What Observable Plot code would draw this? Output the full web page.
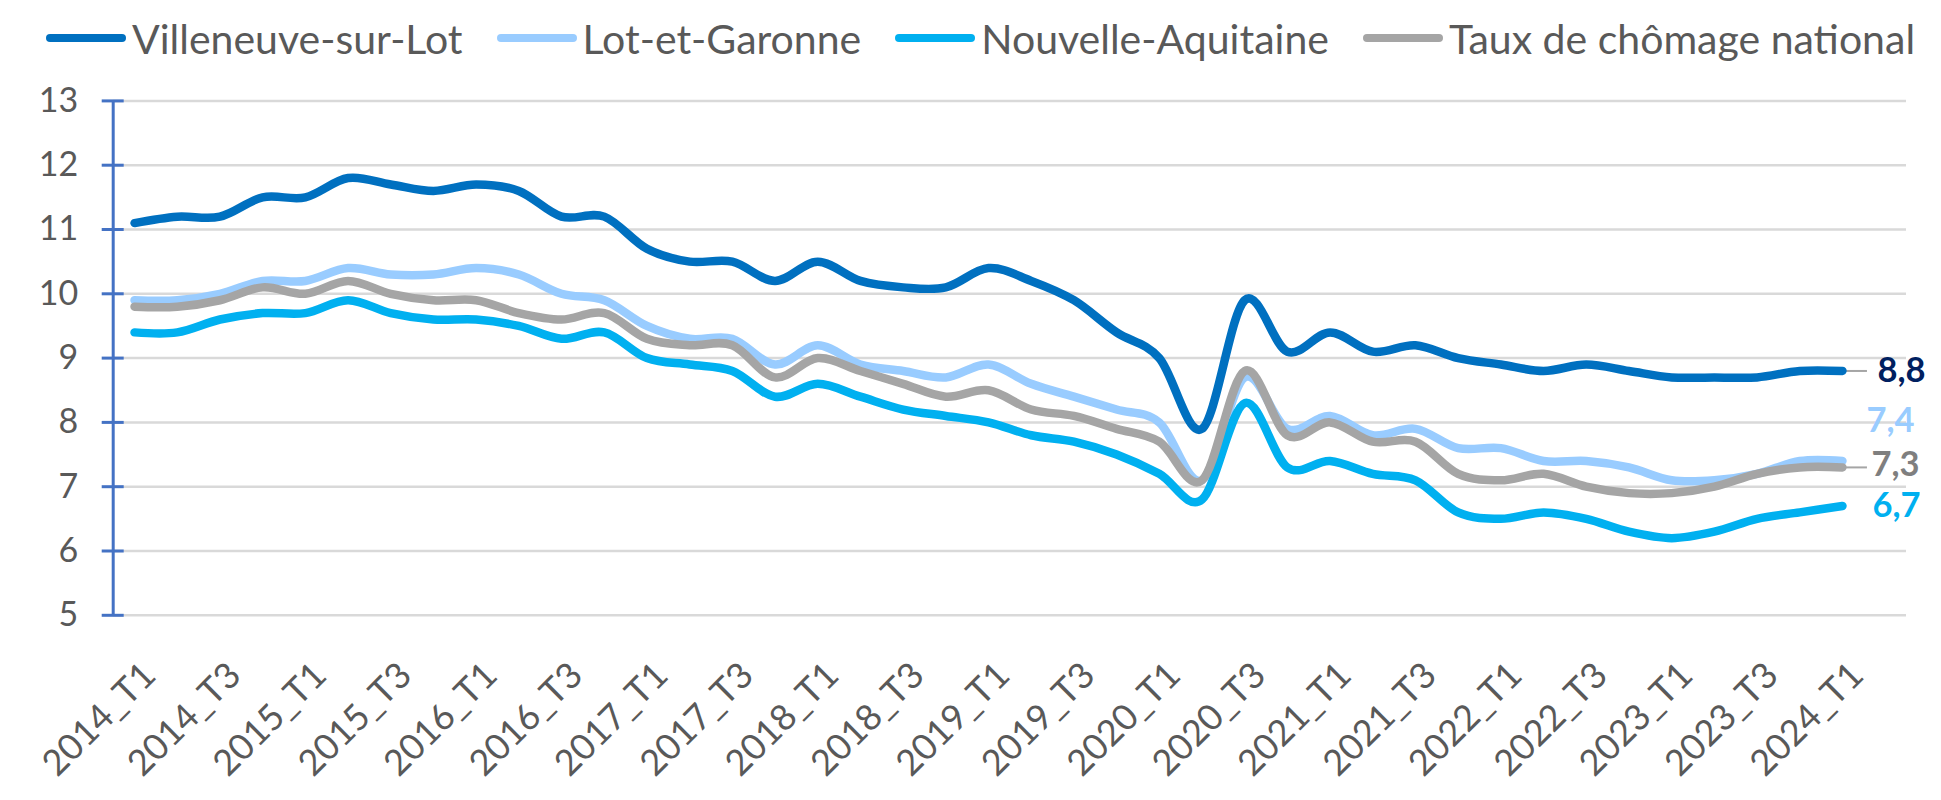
<!DOCTYPE html>
<html><head><meta charset="utf-8">
<script src="https://cdn.jsdelivr.net/npm/d3@7"></script>
<script src="https://cdn.jsdelivr.net/npm/@observablehq/plot@0.6"></script>
<style>
html,body{margin:0;padding:0;background:#fff;overflow:hidden;width:1941px;height:800px;}
#legend{height:76px;display:flex;align-items:center;padding-left:46px;font-family:Lato,sans-serif;font-size:41px;color:#595959;white-space:nowrap;box-sizing:border-box;}
.item{display:flex;align-items:center;margin-right:34px;}
.sw{width:80px;height:8px;border-radius:4px;margin-right:6px;}
#chart svg{display:block;}
</style></head><body>
<div id="legend"></div><div id="chart"></div>
<script>
const quarters = ["2014_T1","2014_T2","2014_T3","2014_T4","2015_T1","2015_T2","2015_T3","2015_T4",
  "2016_T1","2016_T2","2016_T3","2016_T4","2017_T1","2017_T2","2017_T3","2017_T4",
  "2018_T1","2018_T2","2018_T3","2018_T4","2019_T1","2019_T2","2019_T3","2019_T4",
  "2020_T1","2020_T2","2020_T3","2020_T4","2021_T1","2021_T2","2021_T3","2021_T4",
  "2022_T1","2022_T2","2022_T3","2022_T4","2023_T1","2023_T2","2023_T3","2023_T4","2024_T1"];
const xTickLabels = ["2014_T1","2014_T3","2015_T1","2015_T3","2016_T1","2016_T3","2017_T1","2017_T3",
  "2018_T1","2018_T3","2019_T1","2019_T3","2020_T1","2020_T3","2021_T1","2021_T3","2022_T1","2022_T3",
  "2023_T1","2023_T3","2024_T1"];
const yTicks = [5,6,7,8,9,10,11,12,13];

const villeneuve = [11.1,11.2,11.2,11.5,11.5,11.8,11.7,11.6,11.7,11.6,11.2,11.2,10.7,10.5,10.5,10.2,10.5,10.2,10.1,10.1,
  10.4,10.2,9.9,9.4,9.0,7.9,9.9,9.1,9.4,9.1,9.2,9.0,8.9,8.8,8.9,8.8,8.7,8.7,8.7,8.8,8.8];
const lotEtGaronne = [9.9,9.9,10.0,10.2,10.2,10.4,10.3,10.3,10.4,10.3,10.0,9.9,9.5,9.3,9.3,8.9,9.2,8.9,8.8,8.7,
  8.9,8.6,8.4,8.2,8.0,7.1,8.7,7.9,8.1,7.8,7.9,7.6,7.6,7.4,7.4,7.3,7.1,7.1,7.2,7.4,7.4];
const nouvelleAquitaine = [9.4,9.4,9.6,9.7,9.7,9.9,9.7,9.6,9.6,9.5,9.3,9.4,9.0,8.9,8.8,8.4,8.6,8.4,8.2,8.1,
  8.0,7.8,7.7,7.5,7.2,6.8,8.3,7.3,7.4,7.2,7.1,6.6,6.5,6.6,6.5,6.3,6.2,6.3,6.5,6.6,6.7];
const national = [9.8,9.8,9.9,10.1,10.0,10.2,10.0,9.9,9.9,9.7,9.6,9.7,9.3,9.2,9.2,8.7,9.0,8.8,8.6,8.4,
  8.5,8.2,8.1,7.9,7.7,7.1,8.8,7.8,8.0,7.7,7.7,7.2,7.1,7.2,7.0,6.9,6.9,7.0,7.2,7.3,7.3];

const seriesNames = ["Villeneuve-sur-Lot","Lot-et-Garonne","Nouvelle-Aquitaine","Taux de chômage national"];
const seriesValues = [villeneuve, lotEtGaronne, nouvelleAquitaine, national];
const seriesColors = ["#0070C0","#99CCFF","#00B0F0","#A5A5A5"];
const labelColors = ["#002060","#99CCFF","#00B0F0","#7F7F7F"];
const labelOffsets = [{dx:35,dy:0,leader:true},{dx:24,dy:-40,leader:false},{dx:30,dy:0,leader:false},{dx:29,dy:-2,leader:true}];

// legend
const legend = d3.select("#legend");
seriesNames.forEach((n, k) => {
  const it = legend.append("div").attr("class","item");
  it.append("div").attr("class","sw").style("background", seriesColors[k]);
  it.append("span").text(n);
});

const rows = seriesValues.map((vals, k) => vals.map((v, i) => ({i, q: quarters[i], v, s: seriesNames[k]})));
const lastIdx = quarters.length - 1;
const fmt = v => v.toFixed(1).replace(".", ",");

const W = 1941, H = 724;
const mL = 112.7, mR = 35, mT = 24.4, mB = 185.2;

const marks = [
  Plot.ruleY(yTicks, {stroke: "#D9D9D9", strokeWidth: 2.5}),
  Plot.ruleX([-0.5], {y1: 5, y2: 13, stroke: "#4472C4", strokeWidth: 3}),
  Plot.tickY(yTicks, {stroke: "#4472C4", strokeWidth: 3, insetLeft: -11, insetRight: (W - mL - mR) - 11}),
  Plot.text(yTicks, {x: -0.5, y: d => d, text: d => String(d), textAnchor: "end", dx: -35, fontSize: 34, fill: "#595959"}),
  Plot.text(xTickLabels, {x: d => quarters.indexOf(d), text: d => d, frameAnchor: "bottom", rotate: -45,
    textAnchor: "end", lineAnchor: "middle", dx: 15, dy: 54, fontSize: 36, fill: "#595959"})
];
// leader lines
seriesValues.forEach((vals, k) => {
  if (labelOffsets[k].leader) {
    marks.push(Plot.ruleY([vals[lastIdx]], {y: d => d, x1: lastIdx, x2: lastIdx, insetLeft: 2, insetRight: -25, stroke: "#A5A5A5", strokeWidth: 2}));
  }
});
rows.forEach((r, k) => {
  marks.push(Plot.line(r, {x: "i", y: "v", stroke: seriesColors[k], strokeWidth: 8.5, curve: "cardinal", strokeLinecap: "round", strokeLinejoin: "round"}));
});
seriesValues.forEach((vals, k) => {
  marks.push(Plot.text([vals[lastIdx]], {x: lastIdx, y: d => d, text: d => fmt(d), textAnchor: "start",
    dx: labelOffsets[k].dx, dy: labelOffsets[k].dy, fontSize: 34.5, fontWeight: "bold", fill: labelColors[k]}));
});

const chart = Plot.plot({
  width: W, height: H,
  marginLeft: mL, marginRight: mR, marginTop: mT, marginBottom: mB,
  x: {type: "linear", domain: [-0.5, quarters.length + 0.5], axis: null},
  y: {domain: [5, 13], axis: null},
  style: {fontFamily: "Lato, sans-serif", background: "white", overflow: "visible"},
  marks
});
document.getElementById("chart").appendChild(chart);
</script>
</body></html>
